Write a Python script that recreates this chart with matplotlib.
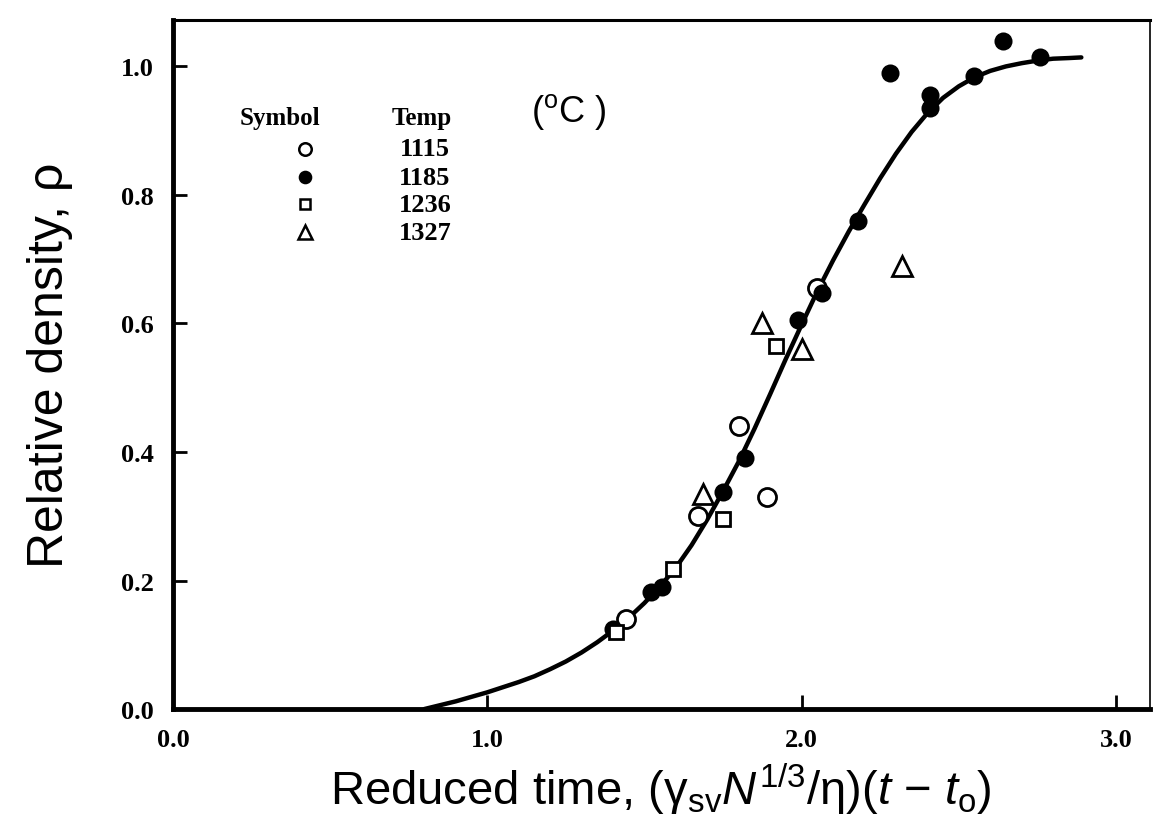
import matplotlib
matplotlib.use("Agg")
import matplotlib.pyplot as plt

# 数据
temps = ["1115", "1185", "1236", "1327"]

x_1115 = [1.44, 1.67, 1.80, 1.89, 2.05]
y_1115 = [0.14, 0.30, 0.44, 0.33, 0.655]

x_1185 = [1.40, 1.52, 1.555, 1.75, 1.82, 1.99, 2.065, 2.18, 2.28, 2.41, 2.41, 2.55, 2.64, 2.76]
y_1185 = [0.125, 0.182, 0.19, 0.338, 0.39, 0.605, 0.648, 0.76, 0.99, 0.955, 0.935, 0.985, 1.04, 1.015]

x_1236 = [1.41, 1.59, 1.75, 1.92]
y_1236 = [0.12, 0.218, 0.296, 0.565]

x_1327 = [1.685, 1.875, 2.00, 2.32]
y_1327 = [0.335, 0.60, 0.56, 0.69]

# 拟合曲线（读取点）
curve_x = [0.80, 0.85, 0.90, 0.95, 1.00, 1.05, 1.10, 1.15, 1.20, 1.25, 1.30, 1.35,
           1.40, 1.45, 1.50, 1.55, 1.60, 1.65, 1.70, 1.75, 1.80, 1.85, 1.90, 1.95,
           2.00, 2.05, 2.10, 2.15, 2.20, 2.25, 2.30, 2.35, 2.40, 2.45, 2.50, 2.55,
           2.60, 2.65, 2.70, 2.75, 2.80, 2.85, 2.89]
curve_y = [0.000, 0.006, 0.012, 0.019, 0.026, 0.034, 0.042, 0.051, 0.062, 0.074, 0.088, 0.104,
           0.122, 0.142, 0.165, 0.191, 0.220, 0.255, 0.295, 0.339, 0.385, 0.436, 0.490, 0.545,
           0.598, 0.650, 0.698, 0.743, 0.785, 0.826, 0.864, 0.898, 0.927, 0.951, 0.969, 0.983,
           0.993, 1.000, 1.005, 1.009, 1.012, 1.013, 1.014]

x_ticks = [0.0, 1.0, 2.0, 3.0]
y_ticks = [0.0, 0.2, 0.4, 0.6, 0.8, 1.0]

plt.rcParams['mathtext.fontset'] = 'custom'
plt.rcParams['mathtext.rm'] = 'Liberation Sans'
plt.rcParams['mathtext.it'] = 'Liberation Sans:italic'

serif = dict(family='Liberation Serif', fontweight='bold')

fig = plt.figure(figsize=(11.53, 8.29), dpi=100)
ax = fig.add_axes([0.150, 0.1435, 0.847, 0.831])

ax.plot(curve_x, curve_y, color='black', lw=3.2, solid_capstyle='round',
        solid_joinstyle='round', zorder=2)

mew = 2.0
ax.plot(x_1115, y_1115, 'o', ms=13, mfc='white', mec='black', mew=mew, zorder=3)
ax.plot(x_1185, y_1185, 'o', ms=11, mfc='black', mec='black', mew=mew, zorder=3)
ax.plot(x_1236, y_1236, 's', ms=10, mfc='white', mec='black', mew=mew, zorder=3)
ax.plot(x_1327, y_1327, '^', ms=14, mfc='white', mec='black', mew=mew, zorder=3)

ax.set_xlim(0, 3.107)
ax.set_ylim(0, 1.072)
ax.set_xticks(x_ticks)
ax.set_yticks(y_ticks)
ax.set_xticklabels([f"{v:.1f}" for v in x_ticks], fontsize=19, **serif)
ax.set_yticklabels([f"{v:.1f}" for v in y_ticks], fontsize=19, **serif)
ax.tick_params(direction='in', length=10, width=2)
ax.tick_params(axis='x', pad=14)
ax.tick_params(axis='y', pad=14)

ax.spines['left'].set_linewidth(3.5)
ax.spines['bottom'].set_linewidth(3.5)
ax.spines['top'].set_linewidth(2.2)
ax.spines['right'].set_linewidth(1.2)

ax.set_xlabel("Reduced time, (γ$_{\\rm sv}$$N^{1/3}$/η)($t$ − $t_{\\rm o}$)",
              fontsize=34, family='Liberation Sans', labelpad=6)
ax.set_ylabel("Relative density, ρ", fontsize=36, family='Liberation Sans', labelpad=34)

# 图例（手动绘制）
ax.text(0.110, 0.859, "Symbol", transform=ax.transAxes, ha='center', va='center', fontsize=18, **serif)
ax.text(0.255, 0.859, "Temp", transform=ax.transAxes, ha='center', va='center', fontsize=18, **serif)
ax.text(0.405, 0.868, "($\\rm ^{o}$C )", transform=ax.transAxes, ha='center', va='center',
        fontsize=26, family='Liberation Sans')
rows = [0.813, 0.772, 0.733, 0.692]
styles = [('o', 'white', 9), ('o', 'black', 8), ('s', 'white', 7.5), ('^', 'white', 10)]
for t, yy, (m, fc, s) in zip(temps, rows, styles):
    ax.plot([0.135], [yy], m, ms=s, mfc=fc, mec='black', mew=1.8, transform=ax.transAxes)
    ax.text(0.258, yy, t, transform=ax.transAxes, ha='center', va='center', fontsize=19, **serif)

fig.savefig("out.png", dpi=100)
